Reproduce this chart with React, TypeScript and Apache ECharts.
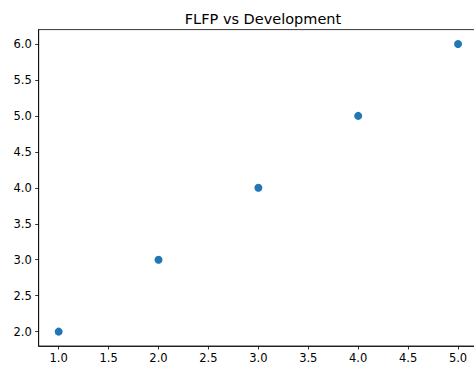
import React, { useEffect, useRef } from "react";
import * as echarts from "echarts";

const xValues = [1, 2, 3, 4, 5];
const yValues = [2, 3, 4, 5, 6];
const xTicks = [1, 1.5, 2, 2.5, 3, 3.5, 4, 4.5, 5];
const yTicks = [2, 2.5, 3, 3.5, 4, 4.5, 5, 5.5, 6];
const titleText = "FLFP vs Development";

export default function App() {
  const ref = useRef<HTMLDivElement>(null);
  useEffect(() => {
    if (!ref.current) return;
    const chart = echarts.init(ref.current, undefined, { renderer: "svg" });
    const font = "DejaVu Sans";
    chart.setOption({
      animation: false,
      backgroundColor: "#ffffff",
      title: {
        text: titleText,
        left: 258,
        top: 6,
        textAlign: "center",
        textStyle: { fontFamily: font, fontSize: 14.5, fontWeight: "normal", color: "#000" },
      },
      grid: {
        left: 38.7,
        top: 29.6,
        width: 439.3,
        height: 316.4,
        show: true,
        borderColor: "#000",
        borderWidth: 0.8,
        containLabel: false,
      },
      xAxis: {
        type: "value",
        min: 0.8,
        max: 5.2,
        splitLine: { show: false },
        axisLine: { show: true, onZero: false, lineStyle: { color: "#000", width: 0.8 } },
        axisTick: {
          show: true,
          length: 3.5,
          inside: false,
          customValues: xTicks,
          lineStyle: { color: "#000", width: 0.8 },
        },
        axisLabel: {
          customValues: xTicks,
          formatter: (v: number) => v.toFixed(1),
          fontFamily: font,
          fontSize: 11.5,
          color: "#000",
          margin: 6,
        },
      },
      yAxis: {
        type: "value",
        min: 1.8,
        max: 6.2,
        splitLine: { show: false },
        axisLine: { show: true, onZero: false, lineStyle: { color: "#000", width: 0.8 } },
        axisTick: {
          show: true,
          length: 3.5,
          inside: false,
          customValues: yTicks,
          lineStyle: { color: "#000", width: 0.8 },
        },
        axisLabel: {
          customValues: yTicks,
          formatter: (v: number) => v.toFixed(1),
          fontFamily: font,
          fontSize: 11.5,
          color: "#000",
          margin: 7,
        },
      },
      series: [
        {
          type: "scatter",
          data: xValues.map((x, i) => [x, yValues[i]]),
          symbol: "circle",
          symbolSize: 8,
          itemStyle: { color: "#1f77b4", opacity: 1 },
        },
      ],
    });
    return () => chart.dispose();
  }, []);
  return (
    <div style={{ position: "fixed", left: 0, top: 0, width: 474, height: 366, overflow: "hidden", background: "#fff" }}>
      <div ref={ref} style={{ width: 480, height: 366 }} />
    </div>
  );
}
